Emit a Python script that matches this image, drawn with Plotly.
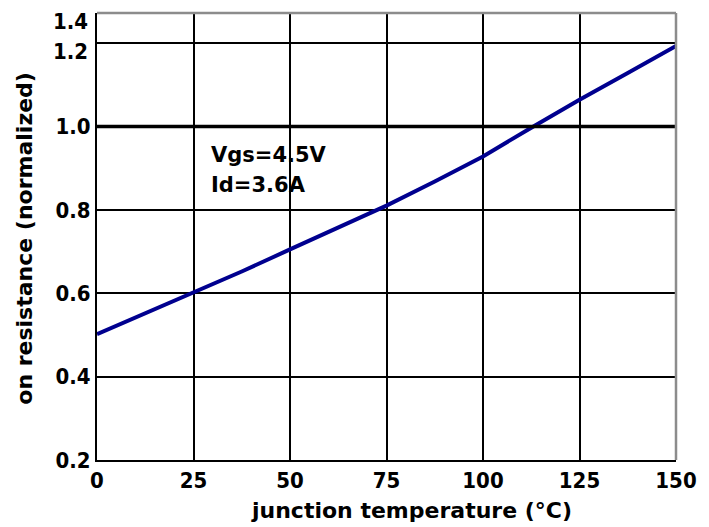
import plotly.graph_objects as go

temp_c = [0, 12.5, 25, 37.5, 50, 62.5, 75, 87.5, 100, 112.5, 125, 137.5, 150]
ron_norm = [0.502, 0.552, 0.600, 0.652, 0.705, 0.757, 0.810, 0.868, 0.928, 0.997, 1.064, 1.128, 1.193]

x_ticks = [0, 25, 50, 75, 100, 125, 150]
y_ticks = [0.2, 0.4, 0.6, 0.8, 1.0, 1.2]
y_tick_text = ["0.2", "0.4", "0.6", "0.8", "1.0", "1.2"]
y_top = 1.272
y_top_label = "1.4"

tick_fam = "DejaVu Sans Condensed, DejaVu Sans, sans-serif"
text_fam = "DejaVu Sans, sans-serif"

# the two upper labels sit slightly below their lines in the original
shifted_vals = [y_ticks[-1], y_top]
shifted_text = [y_tick_text[-1], y_top_label]
axis_text = [f"<b>{t}</b>" for t in y_tick_text[:-1]] + [""]

fig = go.Figure()
fig.add_trace(go.Scatter(x=temp_c, y=ron_norm, mode="lines",
                         line=dict(color="#00008f", width=4),
                         showlegend=False, hoverinfo="skip"))

fig.add_hline(y=1.0, line=dict(color="black", width=3.5))
fig.add_shape(type="line", xref="paper", yref="paper", x0=0, x1=1, y0=1, y1=1,
              line=dict(color="#8c8c8c", width=2.5))
fig.add_shape(type="line", xref="paper", yref="paper", x0=1, x1=1, y0=0, y1=1,
              line=dict(color="#8c8c8c", width=2.5))

fig.add_annotation(x=29, y=0.931, xref="x", yref="y", text="<b>Vgs=4.5V</b>",
                   showarrow=False, xanchor="left", yanchor="middle",
                   font=dict(family=text_fam, size=21, color="black"))
fig.add_annotation(x=29, y=0.859, xref="x", yref="y", text="<b>Id=3.6A</b>",
                   showarrow=False, xanchor="left", yanchor="middle",
                   font=dict(family=text_fam, size=21, color="black"))

for v, t in zip(shifted_vals, shifted_text):
    fig.add_annotation(x=0, y=v, xref="paper", yref="y", xshift=-7, yshift=-8,
                       text=f"<b>{t}</b>", showarrow=False,
                       xanchor="right", yanchor="middle",
                       font=dict(family=tick_fam, size=22, color="black"))

# axis titles
fig.add_annotation(x=0.544, y=0, xref="paper", yref="paper", yshift=-50,
                   text="<b>junction temperature (°C)</b>", showarrow=False,
                   xanchor="center", yanchor="middle",
                   font=dict(family=text_fam, size=22, color="black"))
fig.add_annotation(x=0, y=0.495, xref="paper", yref="paper", xshift=-72,
                   text="<b>on resistance (normalized)</b>", showarrow=False,
                   textangle=-90, xanchor="center", yanchor="middle",
                   font=dict(family=text_fam, size=22, color="black"))

fig.update_layout(
    width=701, height=519,
    margin=dict(l=89, r=33, t=5, b=67),
    paper_bgcolor="white", plot_bgcolor="white",
    font=dict(family=text_fam, color="black"),
)
fig.update_xaxes(
    range=[0, 150], tickvals=x_ticks, ticktext=[f"<b>{v}</b>" for v in x_ticks],
    tickfont=dict(size=22, family=tick_fam), ticks="", ticklen=0,
    showgrid=True, gridcolor="black", gridwidth=2, automargin=False,
    showline=True, linecolor="black", linewidth=2, zeroline=False,
)
fig.update_yaxes(
    range=[0.2, y_top], tickvals=y_ticks, ticktext=axis_text,
    tickfont=dict(size=22, family=tick_fam), ticks="", ticklen=0,
    showgrid=True, gridcolor="black", gridwidth=2, automargin=False,
    showline=True, linecolor="black", linewidth=2, zeroline=False,
)

fig.write_html("out.html")
